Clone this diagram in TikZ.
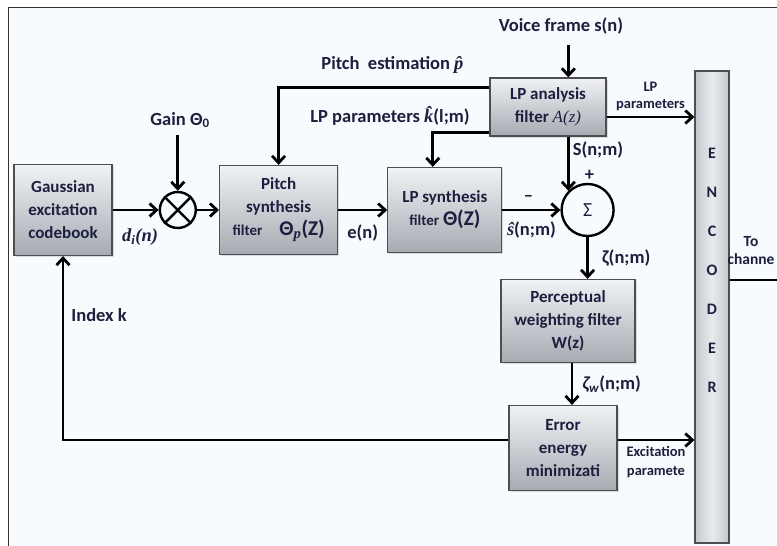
\documentclass[tikz,border=0pt]{standalone}
\usepackage{fontspec}
\setmainfont{Carlito}
\newfontfamily\timesfont{Liberation Serif}
\usetikzlibrary{arrows.meta, positioning, calc, shadows}

\definecolor{txtblue}{RGB}{28,32,62}
\definecolor{boxtop}{RGB}{240,242,245}
\definecolor{boxbot}{RGB}{166,171,178}
\definecolor{boxline}{RGB}{78,78,80}
\definecolor{bgblue}{RGB}{247,251,254}
\definecolor{encedge}{RGB}{196,200,206}
\definecolor{encmid}{RGB}{232,235,238}

\begin{document}
\begin{tikzpicture}[
  x=1pt, y=-1pt,
  font=\bfseries\fontsize{17}{23}\selectfont, text=txtblue,
  block/.style={rectangle, draw=boxline, line width=1.2pt, top color=boxtop, bottom color=boxbot, align=center, inner sep=2pt, drop shadow={opacity=0.25, shadow xshift=1.5pt, shadow yshift=-1.5pt}},
  junc/.style={circle, draw=black, line width=2.4pt, fill=bgblue, inner sep=0pt},
  lbl/.style={inner sep=1pt, align=center, font=\bfseries\fontsize{18.5}{22}\selectfont},
  smalllbl/.style={inner sep=1pt, align=center, font=\bfseries\fontsize{14.5}{17}\selectfont},
  arrow/.style={-{Straight Barb[length=7pt, width=13pt]}, line width=2.8pt, draw=black}
]
  % frame
  \clip (0,0) rectangle (777,546);
  \fill[white] (0,0) rectangle (777,546);
  \draw[fill=bgblue, draw=black!80, line width=1pt] (8,7) rectangle (800,570);

  % blocks
  \node[block, minimum width=98pt, minimum height=91pt] (gauss) at (63,210) {Gaussian\\excitation\\codebook};
  \node[junc, minimum size=36pt, right=46pt of gauss] (mult) {};
  \draw[line width=2.4pt] (mult.north west) -- (mult.south east) (mult.north east) -- (mult.south west);
  \node[block, minimum width=118pt, minimum height=89pt, right=22pt of mult] (pitch) {Pitch\\synthesis\\{\fontsize{15}{23}\selectfont filter}\quad{\fontsize{21}{23}\selectfont Θ\textsubscript{\timesfont\itshape p}(Z)}};
  \node[block, minimum width=114pt, minimum height=85pt, right=49pt of pitch] (lpsyn) {LP synthesis\\{\fontsize{15}{23}\selectfont filter} {\fontsize{21}{23}\selectfont Θ(Z)}};
  \node[junc, minimum size=52pt, right=58pt of lpsyn] (sum) {\mdseries\fontsize{20}{20}\selectfont Σ};
  \node[block, minimum width=116pt, minimum height=58pt] (lpana) at (548,107) {LP analysis\\filter {\timesfont\mdseries\itshape A(z)}};
  \node[block, minimum width=134pt, minimum height=83pt] (perc) at (568,321) {Perceptual\\weighting filter\\W(z)};
  \node[block, minimum width=108pt, minimum height=85pt] (err) at (563,448) {Error\\energy\\minimizati};
  \node[rectangle, draw=boxline, line width=1.2pt, left color=encedge, right color=encedge, middle color=encmid, minimum width=34pt, minimum height=472pt, drop shadow={opacity=0.2, shadow xshift=1pt, shadow yshift=-1pt}] (enc) at (712,307) {};
  \node[align=center, font=\bfseries\fontsize{16}{39}\selectfont, below=74pt of enc.north] (enctxt) {E\\N\\C\\O\\D\\E\\R};

  % inputs and outputs
  \node[lbl] (voice) at (561,26) {Voice frame s(n)};
  \node[lbl] (gain) at (180,120) {Gain Θ\textsubscript{0}};
  \node[lbl] (kpar) at (390,116) {LP parameters {\timesfont\itshape k̂}(l;m)};
  \node[lbl] (dlab) at (140,237) {\timesfont\itshape d\textsubscript{i}(n)};
  \node[smalllbl, font=\bfseries\fontsize{15.5}{18}\selectfont] (chan) at (751,251) {To\\channe};
  \coordinate (out) at (790,280);

  % connectors
  \draw[arrow] (gauss) -- (mult);
  \draw[arrow, shorten <=6pt] (gain.south -| mult) -- (mult);
  \draw[arrow] (mult) -- (pitch);
  \draw[arrow] (pitch) -- node[lbl, below, yshift=-12pt]{e(n)} (lpsyn);
  \draw[arrow] (lpsyn) -- node[lbl, above, yshift=6pt, pos=0.45]{–} node[lbl, below, yshift=-9pt]{{\timesfont\itshape ŝ}(n;m)} (sum);
  \draw[arrow] ($(lpana.north west)+(0,10)$) -| node[lbl, above, yshift=12pt, pos=0.23]{Pitch~~estimation {\timesfont\itshape p̂}} (pitch.north);
  \draw[arrow] ($(lpana.south west)+(0,-4)$) -| ($(lpsyn.north)+(-12,0)$);
  \draw[arrow] ($(voice.south -| sum.north west)+(0,10)$) -- (sum.north west |- lpana.north);
  \draw[arrow] (sum.north west |- lpana.south) -- node[lbl, right, xshift=2pt, pos=0.25]{S(n;m)} node[lbl, right, xshift=14pt, pos=0.72]{+} (sum.north west);
  \draw[arrow] (sum.south) -- node[lbl, right, xshift=12pt]{ζ(n;m)} (sum.south |- perc.north);
  \draw[arrow] ([xshift=4pt]perc.south) -- node[lbl, right, xshift=8pt]{{\itshape ζ\textsubscript{w}}(n;m)} ([xshift=4pt]perc.south |- err.north);
  \draw[arrow] ([yshift=-10pt]lpana.east) -- node[smalllbl, above, yshift=4pt]{LP\\parameters} ([yshift=-10pt]lpana.east -| enc.west);
  \draw[arrow] ([yshift=8pt]err.east) -- node[smalllbl, below, yshift=-4pt, font=\bfseries\fontsize{14.5}{19}\selectfont]{Excitation\\paramete} ([yshift=8pt]err.east -| enc.west);
  \draw[arrow] ([yshift=8pt]err.west) -| node[lbl, right, xshift=6pt, pos=0.84]{Index k} (gauss.south);
  \draw[arrow] (enc.east |- out) -- (out);
\end{tikzpicture}
\end{document}
